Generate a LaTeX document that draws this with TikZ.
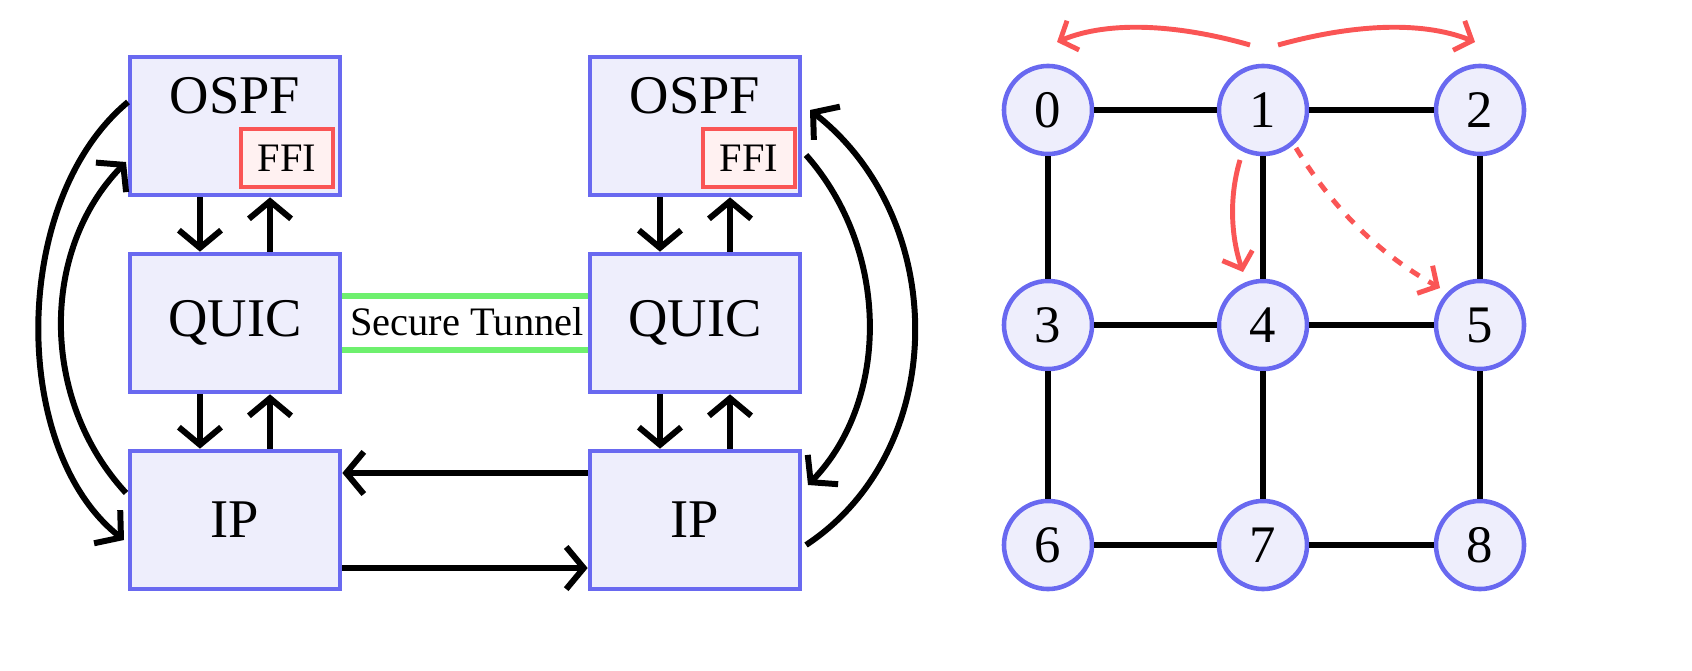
\documentclass[tikz,border=0pt]{standalone}
\usepackage{fontspec}
\setmainfont{Liberation Serif}
\usetikzlibrary{arrows.meta}
\definecolor{bl}{RGB}{105,105,240}
\definecolor{bf}{RGB}{238,238,252}
\definecolor{rd}{RGB}{250,85,85}
\definecolor{gr}{RGB}{110,240,110}
\begin{document}
\begin{tikzpicture}[x=0.01cm,y=-0.01cm,
  box/.style={draw=bl,fill=bf,line width=1.3pt,minimum width=2.1cm,minimum height=1.38cm,inner sep=0pt,font=\fontsize{15.5}{17}\selectfont},
  ffi/.style={draw=rd,fill=white!92!rd,line width=1.3pt,minimum width=0.92cm,minimum height=0.58cm,inner sep=0pt,font=\fontsize{11.5}{13}\selectfont},
  vtx/.style={circle,draw=bl,fill=bf,line width=1.3pt,minimum size=0.88cm,inner sep=0pt,font=\fontsize{15}{17}\selectfont},
  ar/.style={line width=1.7pt,-{Straight Barb[length=5pt,width=12pt]}},
  ra/.style={line width=1.4pt,draw=rd,-{Straight Barb[length=4pt,width=9pt]}},
  ed/.style={line width=1.7pt}]
\useasboundingbox (0,0) rectangle (1692,670);
\node[box] (o1) at (235,126) {};
\node[anchor=north] at (o1.north) [yshift=-0.1cm,font=\fontsize{15.5}{17}\selectfont] {OSPF};
\node[ffi] (f1) at (287,158) {FFI};
\node[box] (q1) at (235,323) {QUIC};
\node[box] (i1) at (235,520) {IP};
\node[box] (o2) at (695,126) {};
\node[anchor=north] at (o2.north) [yshift=-0.1cm,font=\fontsize{15.5}{17}\selectfont] {OSPF};
\node[ffi] (f2) at (749,158) {FFI};
\node[box] (q2) at (695,323) {QUIC};
\node[box] (i2) at (695,520) {IP};
% vertical arrows
\foreach \a/\b in {o1/q1,q1/i1,o2/q2,q2/i2}{
  \draw[ar] ([xshift=-0.35cm]\a.south) -- ([xshift=-0.35cm]\b.north);
  \draw[ar] ([xshift=0.35cm]\b.north) -- ([xshift=0.35cm]\a.south);}
% tunnel
\draw[gr,line width=1.7pt] ([yshift=0.27cm]q1.east) -- ([yshift=0.27cm]q2.west);
\draw[gr,line width=1.7pt] ([yshift=-0.27cm]q1.east) -- ([yshift=-0.27cm]q2.west);
\node[font=\fontsize{11.5}{13}\selectfont,fill=white,inner sep=1pt] (st) at (467,322) {Secure Tunnel};
% IP arrows
\draw[ar] ([yshift=0.47cm]i2.west) -- ([yshift=0.47cm]i1.east);
\draw[ar] ([yshift=-0.48cm]i1.east) -- ([yshift=-0.48cm]i2.west);
% side arcs
\coordinate (a1) at (128,102); \coordinate (a2) at (124,540);
\draw[ar] (a1) .. controls (10,200) and (10,450) .. (a2);
\coordinate (b1) at (126,493); \coordinate (b2) at (126,162);
\draw[ar] (b1) .. controls (40,400) and (40,250) .. (b2);
\coordinate (c1) at (806,155); \coordinate (c2) at (808,485);
\draw[ar] (c1) .. controls (890,250) and (890,400) .. (c2);
\coordinate (d1) at (806,545); \coordinate (d2) at (810,110);
\draw[ar] (d1) .. controls (950,450) and (950,220) .. (d2);
% grid
\foreach \i/\x/\y in {0/1048/110,1/1263/110,2/1480/110,3/1048/325,4/1263/325,5/1480/325,6/1048/545,7/1263/545,8/1480/545}
  \node[vtx] (n\i) at (\x,\y) {\i};
\foreach \a/\b in {0/1,1/2,3/4,4/5,6/7,7/8,0/3,3/6,1/4,4/7,2/5,5/8}
  \draw[ed] (n\a) -- (n\b);
\coordinate (r1) at (1250,45); \coordinate (r2) at (1057,42);
\draw[ra] (r1) .. controls (1180,25) and (1110,20) .. (r2);
\coordinate (r3) at (1278,45); \coordinate (r4) at (1475,42);
\draw[ra] (r3) .. controls (1350,25) and (1420,20) .. (r4);
\coordinate (r5) at (1240,160); \coordinate (r6) at (1243,272);
\draw[ra] (r5) .. controls (1228,200) and (1232,240) .. (r6);
\coordinate (r7) at (1296,148); \coordinate (r8) at (1440,288);
\draw[ra,dash pattern=on 3pt off 3pt] (r7) .. controls (1340,220) and (1390,260) .. (r8);
\end{tikzpicture}
\end{document}
